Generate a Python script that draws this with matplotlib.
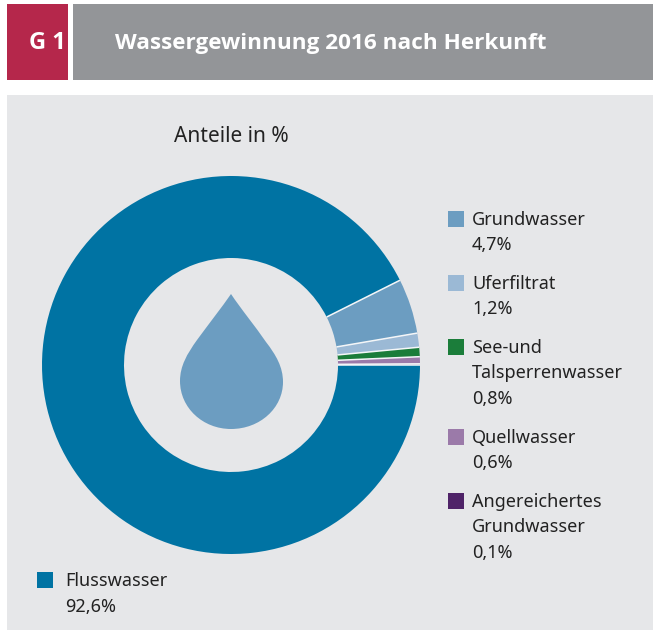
import numpy as np
import matplotlib
matplotlib.use("Agg")
import matplotlib.pyplot as plt
from matplotlib.patches import Rectangle, PathPatch
from matplotlib.path import Path

categories = ["Flusswasser", "Grundwasser", "Uferfiltrat", "See-und\nTalsperrenwasser", "Quellwasser", "Angereichertes\nGrundwasser"]
values = [92.6, 4.7, 1.2, 0.8, 0.6, 0.1]
value_labels = ["92,6%", "4,7%", "1,2%", "0,8%", "0,6%", "0,1%"]
colors = ["#0073A3", "#6C9DC1", "#9BB9D5", "#1B7D3A", "#9B7AA9", "#4F2368"]

W, H = 653, 630
FONT = "Noto Sans"
BOLD = "Open Sans"
fig = plt.figure(figsize=(W/100, H/100), dpi=100, facecolor="white")
bg = fig.add_axes([0, 0, 1, 1])
bg.set_xlim(0, W); bg.set_ylim(H, 0); bg.axis("off")
bg.add_patch(Rectangle((7, 4), 61, 76, fc="#B5274B", ec="none"))
bg.add_patch(Rectangle((73, 4), 580, 76, fc="#939598", ec="none"))
bg.add_patch(Rectangle((7, 95), 646, 535, fc="#E6E7E9", ec="none"))
bg.text(29, 43, "G 1", color="white", fontsize=17, fontweight="bold", family=BOLD, ha="left", va="center")
bg.text(115, 43, "Wassergewinnung 2016 nach Herkunft", color="white", fontsize=16.2, fontweight="bold", family=BOLD, ha="left", va="center")
bg.text(231, 136, "Anteile in %", color="#222222", fontsize=15, family=FONT, ha="center", va="center")

ax = fig.add_axes([42/W, (H-554)/H, 378/W, 378/H])
ax.pie(values, colors=colors, startangle=0, counterclock=False, radius=1,
       wedgeprops=dict(width=1-107/189, linewidth=0))
ax.set_xlim(-1, 1); ax.set_ylim(-1, 1)
inner = 107/189
cum = np.cumsum([0] + values[:-1])
for c in cum:
    a = -np.deg2rad(c*3.6)
    ax.plot([inner*np.cos(a), np.cos(a)], [inner*np.sin(a), np.sin(a)], color="#F4F6F8", lw=1.1, solid_capstyle="butt")

# water drop icon
verts = [(231, 294),
         (222, 307), (208, 325), (197, 340),
         (187, 354), (180, 366), (180, 381),
         (180, 408), (203, 429), (231, 429),
         (260, 429), (283, 408), (283, 382),
         (283, 367), (276, 355), (266, 342),
         (255, 326), (241, 309), (231, 294)]
codes = [Path.MOVETO] + [Path.CURVE4]*18
bg2 = fig.add_axes([0, 0, 1, 1]); bg2.set_xlim(0, W); bg2.set_ylim(H, 0); bg2.axis("off")
bg2.patch.set_alpha(0)
bg2.add_patch(PathPatch(Path(verts, codes), fc="#6C9DC1", ec="none"))

# legend
TC = "#222222"
def entry(i, x, y, tx=24, ystep=25.5):
    bg2.add_patch(Rectangle((x, y-8), 16, 16, fc=colors[i], ec="none"))
    lines = categories[i].split("\n") + [value_labels[i]]
    for k, t in enumerate(lines):
        bg2.text(x+tx, y+1+k*ystep, t, color=TC, fontsize=13, family=FONT, ha="left", va="center")
entry(1, 448, 219)
entry(2, 448, 283)
entry(3, 448, 347)
entry(4, 448, 437)
entry(5, 448, 501)
entry(0, 37, 580, tx=28.5)
fig.savefig("out.png", dpi=100, facecolor="white")
